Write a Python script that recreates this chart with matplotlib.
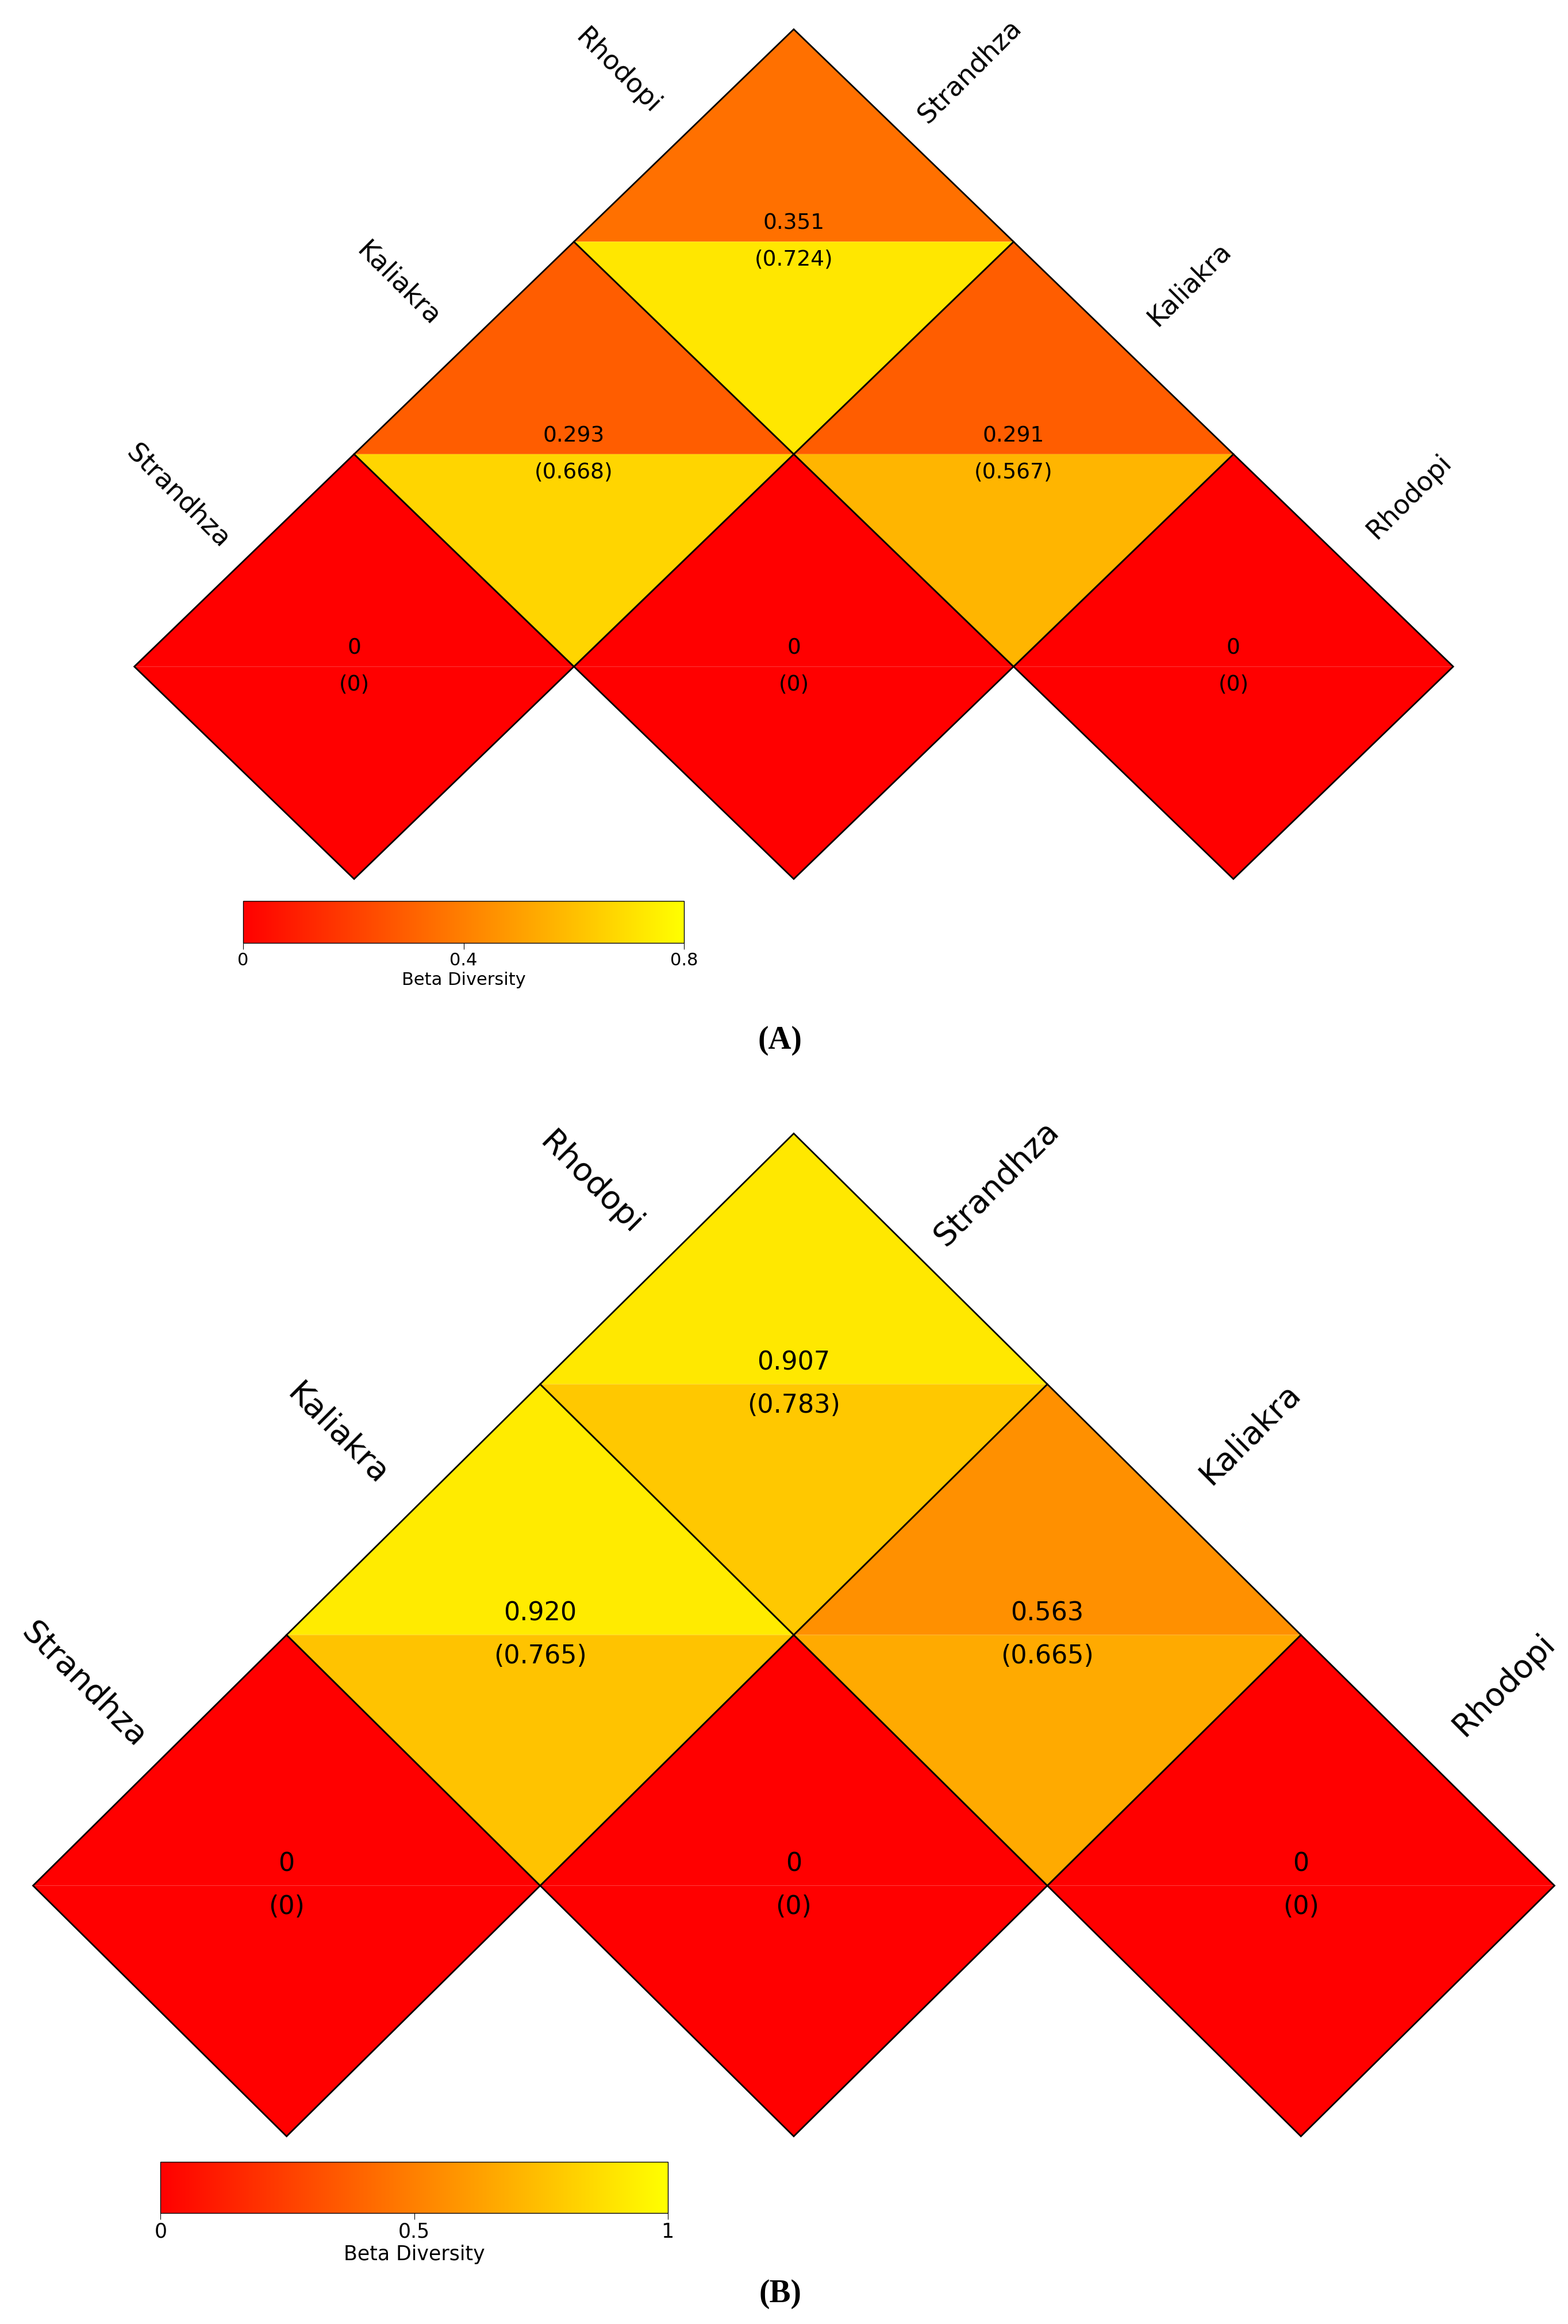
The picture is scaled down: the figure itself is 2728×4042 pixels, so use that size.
import matplotlib
matplotlib.use("Agg")
import matplotlib.pyplot as plt
import numpy as np
from matplotlib.patches import Polygon
from matplotlib.colors import LinearSegmentedColormap, Normalize
from matplotlib.colorbar import ColorbarBase

# ---- data ----
sites_left = ["Strandhza", "Kaliakra", "Rhodopi"]
sites_right = ["Rhodopi", "Kaliakra", "Strandhza"]
A_upper = [[0, 0, 0], [0.293, 0.291], [0.351]]
A_lower = [[0, 0, 0], [0.668, 0.567], [0.724]]
B_upper = [[0, 0, 0], [0.920, 0.563], [0.907]]
B_lower = [[0, 0, 0], [0.765, 0.665], [0.783]]
A_ticks = [0, 0.4, 0.8]
B_ticks = [0, 0.5, 1]
A_tick_labels = ["0", "0.4", "0.8"]
B_tick_labels = ["0", "0.5", "1"]

W, H = 1045, 1548
cmap = LinearSegmentedColormap.from_list("ry", ["#FF0000", "#FF8000", "#FFFF00"])

fig = plt.figure(figsize=(27.28, 40.42), dpi=100)
ax = fig.add_axes([0, 0, 1, 1])
ax.set_xlim(0, W); ax.set_ylim(H, 0); ax.axis("off")

def fmt(v):
    return "0" if v == 0 else f"{v:.3f}"

def panel(upper, lower, vmax, x0, ybase, hw, hh, fs, lfs, ticks, tlabels, cb, tfs):
    norm = Normalize(0, vmax)
    for lvl, (ru, rl) in enumerate(zip(upper, lower)):
        for k, (vu, vl) in enumerate(zip(ru, rl)):
            cx = x0 + (2 * k + lvl) * hw
            cy = ybase - lvl * hh
            T, R, Bt, L = (cx, cy - hh), (cx + hw, cy), (cx, cy + hh), (cx - hw, cy)
            ax.add_patch(Polygon([T, R, L], closed=True, fc=cmap(norm(vu)), ec="none"))
            ax.add_patch(Polygon([L, R, Bt], closed=True, fc=cmap(norm(vl)), ec="none"))
            ax.add_patch(Polygon([T, R, Bt, L], closed=True, fc="none", ec="black", lw=2))
            d = hh * 0.085
            ax.text(cx, cy - d, fmt(vu), ha="center", va="center", fontsize=fs)
            ax.text(cx, cy + d, f"({fmt(vl)})", ha="center", va="center", fontsize=fs)
    for i, name in enumerate(sites_left):
        cx = x0 - hw + i * hw + hw * 0.5
        cy = ybase - hh * (i + 0.5)
        ax.text(cx - hw * 0.3, cy - hh * 0.3, name, rotation=-45, ha="center", va="center", fontsize=lfs)
    for i, name in enumerate(sites_right):
        cx = x0 + 5 * hw - i * hw - hw * 0.5
        cy = ybase - hh * (i + 0.5)
        ax.text(cx + hw * 0.3, cy - hh * 0.3, name, rotation=45, ha="center", va="center", fontsize=lfs)
    x1, y1, x2, y2 = cb
    cax = fig.add_axes([x1 / W, 1 - y2 / H, (x2 - x1) / W, (y2 - y1) / H])
    c = ColorbarBase(cax, cmap=cmap, norm=norm, orientation="horizontal", ticks=ticks)
    c.set_ticklabels(tlabels)
    c.ax.tick_params(labelsize=tfs, length=8)
    c.set_label("Beta Diversity", fontsize=tfs)
    c.outline.set_linewidth(1)

panel(A_upper, A_lower, 0.8, 236, 444, 146.5, 141.5, 27, 33, A_ticks, A_tick_labels, (162, 600, 456, 628), 22)
panel(B_upper, B_lower, 1.0, 191, 1256, 169, 167, 32, 40, B_ticks, B_tick_labels, (107, 1440, 445, 1474), 25)

ax.text(520, 693, "(A)", ha="center", va="center", fontsize=40, fontweight="bold", family="Liberation Serif")
ax.text(520, 1528, "(B)", ha="center", va="center", fontsize=40, fontweight="bold", family="Liberation Serif")

fig.savefig("out.png", dpi=100)
